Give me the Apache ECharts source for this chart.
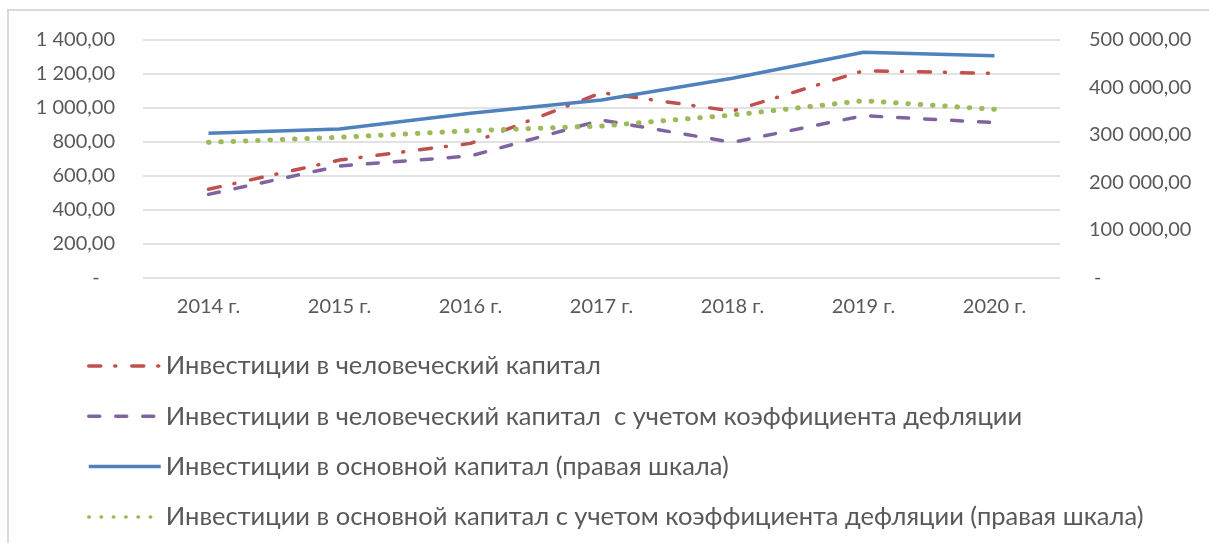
<!DOCTYPE html>
<html>
<head>
<meta charset="utf-8">
<script src="https://cdn.jsdelivr.net/npm/echarts@6/dist/echarts.min.js"></script>
<style>
  html, body { margin: 0; padding: 0; background: #fff; }
  #chart { width: 1209px; height: 543px; }
</style>
</head>
<body>
<div id="chart"></div>
<script>
// years on the x axis
const years = ['2014 г.', '2015 г.', '2016 г.', '2017 г.', '2018 г.', '2019 г.', '2020 г.'];
// left scale
const humanInv = [519, 691, 789, 1087, 979, 1216, 1201];
const humanInvDefl = [489, 656, 715, 926, 795, 952, 911];
// right scale
const fixedInv = [302900, 312000, 345000, 372900, 418500, 473100, 466000];
const fixedInvDefl = [284000, 294500, 308400, 318300, 341400, 371400, 353300];

const names = [
    'Инвестиции в человеческий капитал',
    'Инвестиции в человеческий капитал  с учетом коэффициента дефляции',
    'Инвестиции в основной капитал (правая шкала)',
    'Инвестиции в основной капитал с учетом коэффициента дефляции (правая шкала)'
];

const FONT = 'Lato';
const GREY = '#595959';

function fmt(v) {
    if (v === 0) return '-';
    const s = String(Math.round(v)).replace(/\B(?=(\d{3})+(?!\d))/g, ' ');
    return s + ',00';
}

const chart = echarts.init(document.getElementById('chart'));
chart.setOption({
    animation: false,
    textStyle: { fontFamily: FONT },
    grid: { left: 143, right: 149, top: 39.5, bottom: 265.5 },
    graphic: [{
        type: 'polyline',
        shape: { points: [[8, 543], [8, 10], [1209, 10]] },
        style: { stroke: '#d9d9d9', lineWidth: 2, fill: null }
    }],
    legend: {
        orient: 'vertical',
        left: 82,
        top: 348,
        itemWidth: 72,
        itemHeight: 14,
        itemGap: 24.3,
        itemStyle: { opacity: 0 },
        lineStyle: { width: 3.5 },
        textStyle: { fontFamily: FONT, fontSize: 25.5, color: GREY },
        data: names
    },
    xAxis: {
        type: 'category',
        data: years,
        boundaryGap: true,
        axisLine: { show: false },
        axisTick: { show: false },
        axisLabel: { fontFamily: FONT, fontSize: 20, color: GREY, margin: 19 }
    },
    yAxis: [{
        type: 'value',
        min: 0, max: 1400, interval: 200,
        axisLine: { show: false },
        axisTick: { show: false },
        splitLine: { lineStyle: { color: '#d9d9d9', width: 1.5 } },
        axisLabel: { fontFamily: FONT, fontSize: 20, color: GREY, margin: 28,
            formatter: v => v === 0 ? '-   ' : fmt(v) }
    }, {
        type: 'value',
        min: 0, max: 500000, interval: 100000,
        axisLine: { show: false },
        axisTick: { show: false },
        splitLine: { show: false },
        axisLabel: { fontFamily: FONT, fontSize: 20, color: GREY, margin: 29,
            formatter: v => v === 0 ? ' -' : fmt(v) }
    }],
    series: [{
        name: names[0], type: 'line', yAxisIndex: 0, data: humanInv,
        symbol: 'none', color: '#c0504d',
        lineStyle: { width: 3.5, color: '#c0504d', type: [12, 14, 1, 16], cap: 'round' }
    }, {
        name: names[1], type: 'line', yAxisIndex: 0, data: humanInvDefl,
        symbol: 'none', color: '#8064a2',
        lineStyle: { width: 3.5, color: '#8064a2', type: [11, 16], cap: 'round' }
    }, {
        name: names[2], type: 'line', yAxisIndex: 1, data: fixedInv,
        symbol: 'none', color: '#4f81bd',
        lineStyle: { width: 3.5, color: '#4f81bd' }
    }, {
        name: names[3], type: 'line', yAxisIndex: 1, data: fixedInvDefl,
        symbol: 'none', color: '#9bbb59',
        lineStyle: { width: 5, color: '#9bbb59', type: [0.5, 11.8], cap: 'round' }
    }]
});
</script>
</body>
</html>
